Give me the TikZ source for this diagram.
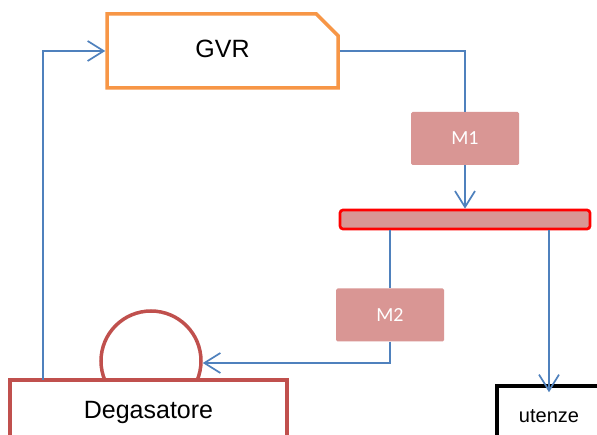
\documentclass[tikz,border=0pt]{standalone}
\usepackage{fontspec}
\setmainfont{Liberation Sans}
\newfontfamily\calibri{Carlito}
\usetikzlibrary{arrows.meta,shapes.misc}
\definecolor{pipe}{HTML}{4F81BD}
\definecolor{gvrorange}{HTML}{F79646}
\definecolor{degred}{HTML}{C0504D}
\definecolor{pumpfill}{HTML}{D99694}
\tikzset{
  flow/.style={draw=pipe, line width=1.7pt},
  tip/.style={-{Straight Barb[length=16pt,width=20pt,line width=1.7pt]}},
  gvrbox/.style={chamfered rectangle, chamfered rectangle corners=north east,
    chamfered rectangle xsep=11pt, chamfered rectangle ysep=11pt,
    draw=gvrorange, line width=3.5pt, fill=white, inner sep=0pt,
    minimum width=231pt, minimum height=74pt, font=\fontsize{25}{28}\selectfont},
  pump/.style={rectangle, rounded corners=1.5pt, fill=pumpfill, draw=none,
    minimum width=108pt, minimum height=53pt, inner sep=0pt,
    text=white, font=\calibri\fontsize{20}{23}\selectfont},
  header/.style={rectangle, rounded corners=3pt, draw=red, line width=2.7pt,
    fill=pumpfill, minimum width=250pt, minimum height=19pt, inner sep=0pt},
  degbox/.style={rectangle, draw=degred, line width=3.5pt, fill=white,
    minimum width=277pt, minimum height=70pt, inner sep=0pt,
    font=\fontsize{25}{28}\selectfont},
  dome/.style={circle, draw=degred, line width=3.5pt, fill=white,
    minimum size=100pt, inner sep=0pt},
  userbox/.style={rectangle, draw=black, line width=3.5pt, fill=white,
    minimum width=104pt, minimum height=70pt, inner sep=0pt,
    font=\fontsize{20}{23}\selectfont},
}
\begin{document}
\begin{tikzpicture}[x=1pt,y=-1pt]
  \useasboundingbox[fill=white] (0,0) rectangle (597,435);
  \begin{scope}
  \clip (0,0) rectangle (597,435);
  % deaerator: dome behind the tank
  \node[dome] (dm) at (151,361) {};
  \node[degbox] (deg) at (148.5,415) {\raisebox{10pt}{Degasatore}};
  % steam generator
  \node[gvrbox] (gvr) at (222.5,51) {\raisebox{4pt}{GVR}};
  % pumps and header
  \node[pump] (m1) at (465,138.5) {M1};
  \node[header] (bar) at (465,219.5) {};
  \node[pump] (m2) at (390,315) {M2};
  % users
  \node[userbox] (ut) at (549,421) {\raisebox{9pt}{utenze}};
  % piping
  \coordinate (ret) at (43,380);
  \draw[flow,tip] (ret) |- (gvr.west);
  \draw[flow] (gvr.east) -| (m1.north);
  \draw[flow,tip] (m1.south) -- (m1.south |- bar.north);
  \draw[flow] (bar.south -| m2.north) -- (m2.north);
  \draw[flow,tip] (m2.south) |- ([yshift=-2pt]dm.east);
  \draw[flow,tip] (bar.south -| ut.north) -- ([yshift=-8pt]ut.north);
  \end{scope}
\end{tikzpicture}
\end{document}
